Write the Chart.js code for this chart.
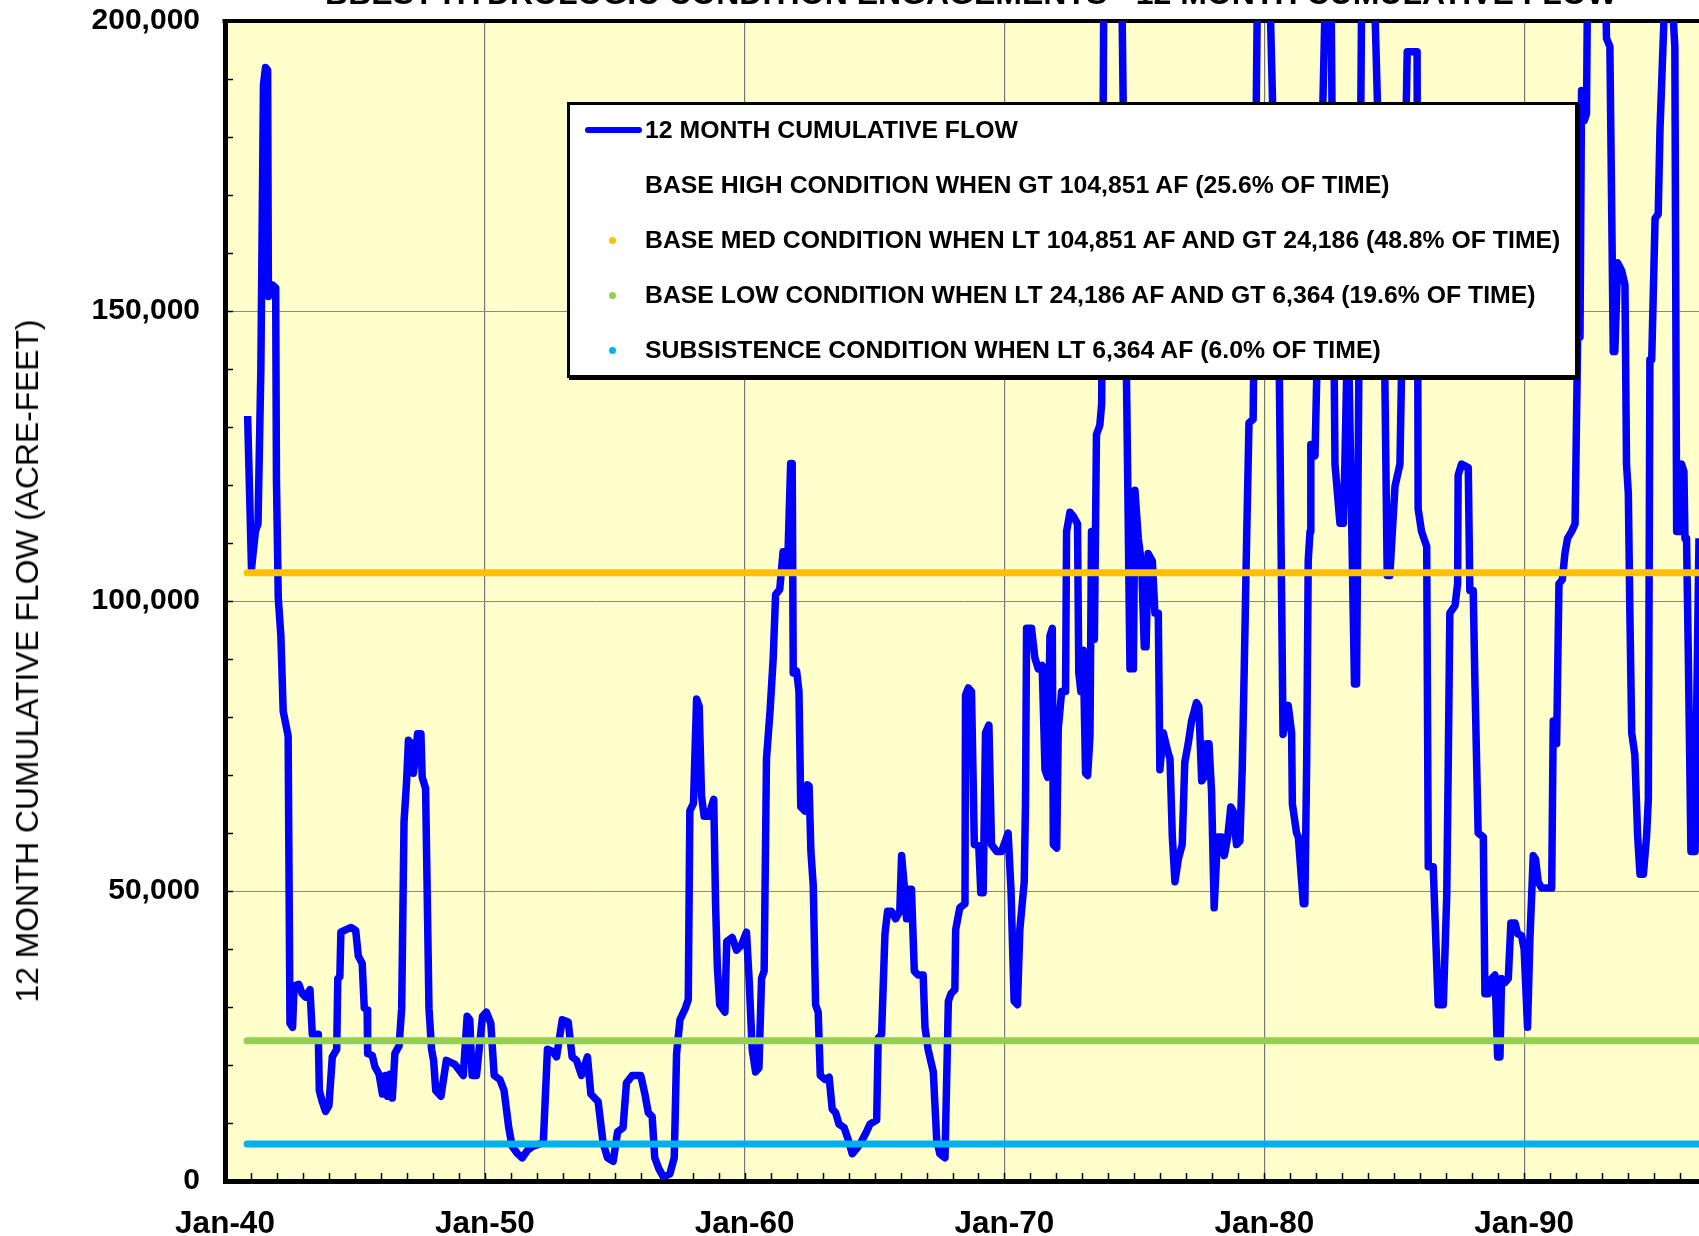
<!DOCTYPE html>
<html>
<head>
<meta charset="utf-8">
<script src="https://cdn.jsdelivr.net/npm/chart.js@4.4.1/dist/chart.umd.min.js"></script>
<style>
  html, body { margin: 0; padding: 0; background: #fff; overflow: hidden; }
  #wrap { position: relative; width: 1699px; height: 1236px; overflow: hidden; }
  #chart { position: absolute; left: 0; top: 0; }
  .txt { position: absolute; font-family: Arial, "Liberation Sans", sans-serif; color: #000; white-space: nowrap; }
  #title { left: -529px; width: 3000px; text-align: center; font-weight: bold; font-size: 32px; line-height: 32px; top: -23px; }
  #ytitle { left: 27px; top: 661px; transform: translate(-50%, -50%) rotate(-90deg); font-size: 31.8px; line-height: 36px; }
  #legend { position: absolute; left: 567px; top: 102px; width: 1011px; height: 276px; box-sizing: border-box;
            background: #fff; border: 3px solid #000; box-shadow: 2px 2px 0 #000; }
  .row { position: absolute; left: 0; right: 0; height: 30px; line-height: 30px; }
  .row .lbl { position: absolute; left: 75px; top: 0; font-family: Arial, "Liberation Sans", sans-serif;
              font-weight: bold; font-size: 24.8px; color: #000; white-space: nowrap; }
  .swatch { position: absolute; left: 15px; top: 12px; width: 57px; height: 6px; border-radius: 3px; }
  .dot { position: absolute; left: 39px; top: 12px; width: 7px; height: 7px; border-radius: 50%; }
</style>
</head>
<body>
<div id="wrap">
  <canvas id="chart" width="1699" height="1236"></canvas>
  <div id="title" class="txt">BBEST HYDROLOGIC CONDITION ENGAGEMENTS - 12 MONTH CUMULATIVE FLOW</div>
  <div id="ytitle" class="txt">12 MONTH CUMULATIVE FLOW (ACRE-FEET)</div>
  <div id="legend"></div>
</div>
<script>
// decimal year of each reading, and the 12 month cumulative flow (acre-feet)
const years = [
  1940.87, 1941.02, 1941.17, 1941.27, 1941.38, 1941.48, 1941.56, 1941.64, 1941.67, 1941.75,
  1941.82, 1941.95, 1941.98, 1942.05, 1942.15, 1942.24, 1942.43, 1942.50, 1942.60, 1942.66,
  1942.84, 1942.97, 1943.10, 1943.27, 1943.36, 1943.59, 1943.63, 1943.74, 1943.87, 1944.00,
  1944.13, 1944.30, 1944.34, 1944.42, 1944.46, 1944.64, 1944.85, 1945.03, 1945.13, 1945.28,
  1945.36, 1945.47, 1945.49, 1945.67, 1945.77, 1945.93, 1946.06, 1946.18, 1946.26, 1946.35,
  1946.44, 1946.54, 1946.70, 1946.80, 1946.89, 1946.99, 1947.06, 1947.18, 1947.25, 1947.34,
  1947.41, 1947.54, 1947.59, 1947.72, 1947.85, 1947.95, 1948.03, 1948.11, 1948.31, 1948.52,
  1948.85, 1949.17, 1949.32, 1949.42, 1949.51, 1949.68, 1949.91, 1950.06, 1950.23, 1950.36,
  1950.58, 1950.74, 1950.92, 1951.05, 1951.26, 1951.44, 1951.64, 1951.86, 1952.25, 1952.41,
  1952.63, 1952.76, 1952.98, 1953.21, 1953.36, 1953.53, 1953.72, 1953.95, 1954.08, 1954.36,
  1954.55, 1954.72, 1954.94, 1955.11, 1955.32, 1955.45, 1955.67, 1956.00, 1956.16, 1956.29,
  1956.44, 1956.54, 1956.70, 1956.86, 1957.12, 1957.29, 1957.38, 1957.51, 1957.72, 1957.83,
  1957.89, 1958.03, 1958.15, 1958.25, 1958.34, 1958.44, 1958.62, 1958.72, 1958.81, 1958.88,
  1958.95, 1959.04, 1959.24, 1959.31, 1959.52, 1959.69, 1959.88, 1960.07, 1960.17, 1960.29,
  1960.42, 1960.55, 1960.65, 1960.75, 1960.84, 1960.98, 1961.10, 1961.19, 1961.35, 1961.48,
  1961.61, 1961.67, 1961.77, 1961.83, 1961.87, 1962.00, 1962.09, 1962.16, 1962.32, 1962.42,
  1962.48, 1962.55, 1962.64, 1962.73, 1962.83, 1962.91, 1963.09, 1963.25, 1963.37, 1963.50,
  1963.63, 1963.83, 1963.98, 1964.14, 1964.31, 1964.47, 1964.69, 1964.82, 1965.08, 1965.14,
  1965.27, 1965.40, 1965.50, 1965.65, 1965.81, 1965.97, 1966.04, 1966.14, 1966.23, 1966.32,
  1966.42, 1966.53, 1966.68, 1966.87, 1966.94, 1967.06, 1967.26, 1967.39, 1967.51, 1967.71,
  1967.84, 1967.94, 1968.09, 1968.12, 1968.28, 1968.48, 1968.50, 1968.61, 1968.73, 1968.84,
  1969.01, 1969.09, 1969.18, 1969.27, 1969.40, 1969.50, 1969.70, 1969.89, 1970.14, 1970.25,
  1970.37, 1970.50, 1970.59, 1970.76, 1970.81, 1970.85, 1971.04, 1971.17, 1971.30, 1971.45,
  1971.56, 1971.66, 1971.75, 1971.84, 1971.88, 1972.01, 1972.07, 1972.20, 1972.35, 1972.39,
  1972.52, 1972.65, 1972.81, 1972.86, 1972.94, 1973.03, 1973.12, 1973.20, 1973.29, 1973.35,
  1973.46, 1973.54, 1973.67, 1973.74, 1973.85, 1974.45, 1974.83, 1974.96, 1975.02, 1975.15,
  1975.28, 1975.38, 1975.45, 1975.53, 1975.69, 1975.79, 1975.92, 1975.98, 1976.11, 1976.28,
  1976.37, 1976.46, 1976.56, 1976.69, 1976.84, 1976.94, 1977.07, 1977.20, 1977.39, 1977.48,
  1977.59, 1977.68, 1977.78, 1977.87, 1977.97, 1978.07, 1978.20, 1978.36, 1978.46, 1978.59,
  1978.71, 1978.80, 1978.93, 1979.06, 1979.15, 1979.23, 1979.32, 1979.41, 1979.57, 1979.80,
  1980.05, 1980.58, 1980.72, 1980.92, 1981.05, 1981.08, 1981.24, 1981.31, 1981.50, 1981.56,
  1981.63, 1981.69, 1981.76, 1981.79, 1981.95, 1982.40, 1982.55, 1982.72, 1982.91, 1983.04,
  1983.10, 1983.22, 1983.47, 1983.55, 1983.78, 1984.12, 1984.64, 1984.73, 1984.83, 1985.03,
  1985.22, 1985.50, 1985.88, 1985.92, 1986.05, 1986.25, 1986.31, 1986.50, 1986.69, 1986.89,
  1987.02, 1987.08, 1987.14, 1987.34, 1987.44, 1987.46, 1987.59, 1987.85, 1987.91, 1988.04,
  1988.11, 1988.23, 1988.43, 1988.49, 1988.62, 1988.75, 1988.88, 1988.98, 1989.07, 1989.13,
  1989.26, 1989.39, 1989.49, 1989.65, 1989.75, 1989.90, 1990.00, 1990.13, 1990.22, 1990.35,
  1990.44, 1990.54, 1990.67, 1991.06, 1991.12, 1991.25, 1991.34, 1991.47, 1991.57, 1991.67,
  1991.83, 1991.96, 1992.06, 1992.15, 1992.21, 1992.31, 1992.40, 1992.47, 1993.05, 1993.17,
  1993.30, 1993.43, 1993.49, 1993.60, 1993.75, 1993.88, 1993.94, 1994.01, 1994.07, 1994.14,
  1994.26, 1994.37, 1994.46, 1994.59, 1994.71, 1994.78, 1994.84, 1994.91, 1995.04, 1995.16,
  1995.23, 1995.50, 1995.68, 1995.80, 1995.87, 1995.99, 1996.06, 1996.15, 1996.19, 1996.25,
  1996.32, 1996.42, 1996.58, 1996.64, 1996.73, 1996.78
];
const flows = [
  131900, 105600, 112000, 113300, 140000, 189000, 192000, 191500, 152500, 153000,
  154500, 154000, 121000, 100500, 94000, 81000, 76700, 27200, 26500, 33600,
  33900, 32300, 31700, 33000, 25300, 25300, 15600, 13700, 12000, 13000,
  21400, 22700, 34900, 35200, 42900, 43300, 43700, 43200, 38800, 37500,
  29800, 29500, 22000, 21600, 19700, 18400, 15000, 18200, 14600, 18400,
  14300, 22000, 23300, 29800, 61900, 69000, 76000, 75400, 70300, 73500,
  77100, 77100, 69600, 67700, 29800, 22700, 20700, 15600, 14600, 20800,
  20100, 18200, 28400, 27800, 18200, 18200, 28400, 29100, 27200, 18200,
  17500, 15600, 9200, 6000, 4700, 4000, 5300, 6000, 6600, 22700,
  22300, 21400, 27800, 27400, 21400, 20800, 18200, 21400, 15000, 13700,
  6600, 4000, 3400, 8500, 9200, 16900, 18200, 18200, 15000, 11800,
  11100, 4000, 2100, 800, 1200, 4000, 22000, 27800, 29800, 31300,
  63800, 65100, 83100, 81800, 66400, 62900, 62900, 64500, 65800, 47800,
  36800, 30400, 29100, 41300, 42000, 39800, 40700, 42900, 34900, 22700,
  18800, 19500, 34900, 36200, 72800, 81200, 90200, 101100, 102000, 108500,
  105600, 108500, 123700, 123700, 87600, 87900, 84400, 64500, 63800, 68300,
  68100, 56800, 51000, 30400, 29100, 18200, 17500, 17900, 12400, 11800,
  9800, 9200, 7200, 4700, 5600, 6600, 8500, 9800, 10500, 24600,
  25300, 42600, 46500, 46500, 45200, 46500, 56100, 51000, 45200, 50300,
  50300, 36200, 35500, 35500, 26500, 22700, 18800, 7200, 4700, 4000,
  31000, 32300, 33000, 43300, 47100, 47800, 83800, 85000, 84400, 58000,
  57800, 49700, 49700, 77300, 78600, 58000, 56800, 56800, 60000, 50300,
  31000, 30400, 43300, 51600, 65800, 95300, 95300, 90200, 88300, 88900,
  70900, 69600, 94000, 95300, 58000, 57400, 78000, 84400, 84400, 112000,
  115300, 114600, 113300, 87600, 84400, 91500, 70300, 69900, 76700, 112000,
  93400, 128700, 130300, 134000, 230000, 230000, 88300, 88300, 119100, 110800,
  106200, 92100, 92100, 108200, 106900, 97900, 97900, 70900, 77300, 74100,
  72800, 59300, 51600, 55500, 58000, 72200, 75400, 79300, 82500, 81800,
  69000, 69600, 75400, 75400, 67100, 47100, 59300, 59300, 56100, 59300,
  64500, 63800, 58000, 58600, 70900, 88900, 110800, 130700, 131300, 235000,
  235000, 138000, 77000, 82000, 77300, 65000, 60000, 59300, 47800, 47800,
  72000, 107000, 112000, 127000, 125000, 215000, 215000, 123600, 113400, 113400,
  123600, 150000, 85700, 85700, 225000, 225000, 138000, 104400, 104400, 119800,
  123600, 194700, 194700, 115900, 112000, 109400, 54200, 54200, 30400, 30400,
  49000, 72200, 97900, 99200, 103000, 121700, 123600, 123000, 101800, 101800,
  85000, 60000, 59300, 32300, 32300, 34900, 35500, 21400, 21400, 34900,
  34200, 34900, 44500, 44500, 42600, 42300, 40000, 26500, 41300, 56100,
  55500, 51600, 50500, 50500, 79300, 75400, 103000, 103700, 108200, 110800,
  112000, 113300, 145500, 145500, 188000, 182800, 184000, 225000, 225000, 197000,
  195600, 143000, 143000, 158300, 157000, 154500, 123600, 118500, 97900, 77300,
  73500, 59300, 52900, 52900, 59300, 65800, 141600, 141600, 166000, 166700,
  181500, 215000, 205000, 195600, 112000, 112000, 123600, 122300, 110800, 110800,
  90200, 56800, 56800, 81200, 110800, 116000
];

// condition thresholds (acre-feet): base med / base low / subsistence
const conditionLevels = [104851, 24186, 6364];
const conditionStart = 1940.85;
const conditionEnd = 1998;

const legendLabels = [
  '12 MONTH CUMULATIVE FLOW',
  'BASE HIGH CONDITION WHEN GT 104,851 AF (25.6% OF TIME)',
  'BASE MED CONDITION WHEN LT 104,851 AF AND GT 24,186 (48.8% OF TIME)',
  'BASE LOW CONDITION WHEN LT 24,186 AF AND GT 6,364 (19.6% OF TIME)',
  'SUBSISTENCE CONDITION WHEN LT 6,364 AF (6.0% OF TIME)'
];

const xDecades = [1940, 1950, 1960, 1970, 1980, 1990];
const xLabels = ['Jan-40', 'Jan-50', 'Jan-60', 'Jan-70', 'Jan-80', 'Jan-90'];
const yMajor = [0, 50000, 100000, 150000, 200000];
const yLabels = ['0', '50,000', '100,000', '150,000', '200,000'];

const FONT = 'Arial, "Liberation Sans", sans-serif';
const levelColors = ['#FFC000', '#92D050', '#00B0F0'];

// legend (drawn as html)
const legendEl = document.getElementById('legend');
const rowY = [25, 80, 135, 190, 245];
legendLabels.forEach((txt, i) => {
    const row = document.createElement('div');
    row.className = 'row';
    row.style.top = (rowY[i] - 15) + 'px';
    let mark = '';
    if (i === 0) mark = '<span class="swatch" style="background:#0000FF"></span>';
    else if (i >= 2) mark = `<span class="dot" style="background:${levelColors[i - 2]}"></span>`;
    row.innerHTML = mark + `<span class="lbl">${txt}</span>`;
    legendEl.appendChild(row);
});

const plotBg = {
    id: 'plotBg',
    beforeDraw(chart) {
        const { ctx, chartArea: a } = chart;
        ctx.save();
        ctx.fillStyle = '#FFFFCC';
        ctx.fillRect(a.left, a.top, a.right - a.left, a.bottom - a.top);
        ctx.restore();
    }
};

const innerTicks = {
    id: 'innerTicks',
    beforeDatasetsDraw(chart) {
        const { ctx, chartArea: a, scales: { x, y } } = chart;
        ctx.save();
        ctx.strokeStyle = '#000';
        ctx.lineWidth = 1.5;
        ctx.beginPath();
        for (let v = 10000; v < 200000; v += 10000) {
            const py = Math.round(y.getPixelForValue(v)) + 0.5;
            ctx.moveTo(a.left, py);
            ctx.lineTo(a.left + 8, py);
        }
        for (let yr = 1941; yr <= 1996; yr++) {
            const px = Math.round(x.getPixelForValue(yr)) + 0.5;
            ctx.moveTo(px, a.bottom);
            ctx.lineTo(px, a.bottom - 8);
        }
        ctx.stroke();
        // top frame line
        ctx.lineWidth = 4;
        ctx.beginPath();
        ctx.moveTo(a.left - 2.5, a.top);
        ctx.lineTo(a.right, a.top);
        ctx.stroke();
        ctx.restore();
    }
};

const flowPoints = years.map((yr, i) => ({ x: yr, y: flows[i] }));
const levelSets = conditionLevels.map((lvl, i) => ({
    label: legendLabels[i + 2],
    data: [{ x: conditionStart, y: lvl }, { x: conditionEnd, y: lvl }],
    borderColor: levelColors[i],
    borderWidth: 7,
    borderCapStyle: 'round',
    pointRadius: 0,
    order: 3 - i
}));

new Chart(document.getElementById('chart'), {
    type: 'line',
    data: {
        datasets: [{
            label: legendLabels[0],
            data: flowPoints,
            borderColor: '#0000FF',
            borderWidth: 7.5,
            borderJoinStyle: 'round',
            pointRadius: 0,
            tension: 0,
            order: 5,
            clip: { left: 0, top: 0, right: 0, bottom: 10 }
        }, ...levelSets]
    },
    options: {
        responsive: false,
        animation: false,
        events: [],
        layout: { padding: { top: 21, right: 0, left: 0, bottom: 0 } },
        plugins: { legend: { display: false }, tooltip: { enabled: false } },
        scales: {
            x: {
                type: 'linear',
                min: 1940,
                max: 1996.73,
                afterBuildTicks: s => {
                    const t = [];
                    for (let yr = 1940; yr <= 1996; yr++) t.push({ value: yr });
                    s.ticks = t;
                },
                afterFit: s => { s.height = 55; s.paddingLeft = 0; s.paddingRight = 0; },
                ticks: {
                    autoSkip: false,
                    maxRotation: 0,
                    padding: 24,
                    color: '#000',
                    font: { family: FONT, size: 31.5, weight: 'bold' },
                    callback: v => {
                        const k = xDecades.indexOf(v);
                        return k >= 0 ? xLabels[k] : '';
                    }
                },
                grid: {
                    drawTicks: false,
                    lineWidth: 1.2,
                    color: c => (c.tick && xDecades.indexOf(c.tick.value) > 0) ? '#777' : 'rgba(0,0,0,0)'
                },
                border: { color: '#000', width: 5 }
            },
            y: {
                min: 0,
                max: 200000,
                afterFit: s => { s.width = 225; s.paddingTop = 0; s.paddingBottom = 0; },
                ticks: {
                    stepSize: 10000,
                    autoSkip: false,
                    padding: 25,
                    color: '#000',
                    font: { family: FONT, size: 30, weight: 'bold' },
                    callback: v => {
                        const k = yMajor.indexOf(v);
                        return k >= 0 ? yLabels[k] : '';
                    }
                },
                grid: {
                    drawTicks: false,
                    lineWidth: 1,
                    color: c => (c.tick && c.tick.value % 50000 === 0 && c.tick.value > 0 && c.tick.value < 200000) ? '#888' : 'rgba(0,0,0,0)'
                },
                border: { color: '#000', width: 5 }
            }
        }
    },
    plugins: [plotBg, innerTicks]
});
</script>
</body>
</html>
